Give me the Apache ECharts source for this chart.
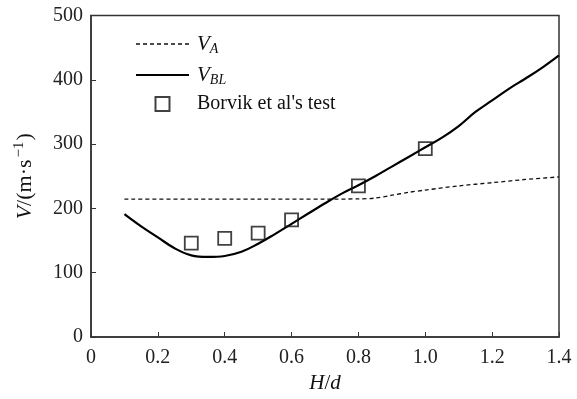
<!DOCTYPE html>
<html>
<head>
<meta charset="utf-8">
<script src="https://cdn.jsdelivr.net/npm/echarts@6/dist/echarts.min.js"></script>
<style>html,body{margin:0;padding:0;background:#fff;}#c{width:577px;height:399px;}</style>
</head>
<body>
<div id="c"></div>
<script>
// H/d sample points for the model curves
const hdCurve = [0.10,0.15,0.20,0.25,0.30,0.35,0.40,0.45,0.50,0.55,0.60,0.65,0.70,0.75,0.80,0.85,0.90,0.95,1.00,1.05,1.10,1.15,1.20,1.25,1.30,1.35,1.40];
const vBL = [191,172,155,138,127,124.5,126,132.5,145,160,176,192,208,223,236,250,265,280,295,310,328,350,368,386,402,419,438];
const hdVA = [0.10,0.30,0.50,0.70,0.80,0.85,0.90,0.95,1.00,1.10,1.20,1.30,1.40];
const vA = [214.5,214.5,214.5,214.5,214.8,216,220.5,225,228.5,235,240,245,249];
const hdTest = [0.3,0.4,0.5,0.6,0.8,1.0];
const vTest = [146,153.5,161.5,182,235,293];
const xTicks = [0,0.2,0.4,0.6,0.8,1.0,1.2,1.4];
const yTicks = [0,100,200,300,400,500];

const serif = '"Liberation Serif","DejaVu Serif",serif';
const zip = (a,b)=>a.map((v,i)=>[v,b[i]]);

// legend icons (line samples)
let dashPath = 'path://';
for (let x = 0; x < 53; x += 7) dashPath += 'M' + x + ',0h4v1.4h-4z';
const solidPath = 'path://M0,0h53v2.2h-53z';

const chart = echarts.init(document.getElementById('c'));
chart.setOption({
  animation:false,
  backgroundColor:'#fff',
  grid:{left:91,right:18,top:15.5,bottom:62,show:true,borderColor:'#333',borderWidth:1.5,backgroundColor:'transparent'},
  xAxis:{
    type:'value',min:0,max:1.4,interval:0.2,
    name:'{i|H}{n|/}{i|d}',nameLocation:'middle',nameGap:36,
    nameTextStyle:{rich:{i:{fontFamily:serif,fontStyle:'italic',fontSize:21,color:'#111'},n:{fontFamily:serif,fontSize:21,color:'#111'}}},
    axisLine:{show:true,lineStyle:{color:'#333',width:1.5}},
    axisTick:{show:true,inside:true,length:5,lineStyle:{color:'#333',width:1}},
    splitLine:{show:false},
    axisLabel:{margin:11,fontFamily:serif,fontSize:20,color:'#222',
      formatter:v=>{const t=xTicks.find(x=>Math.abs(x-v)<1e-6);return t===0?'0':t.toFixed(1);}}
  },
  yAxis:{
    type:'value',min:0,max:500,interval:100,
    name:'{i|V}{n|/(m·s}{sup|−1}{n|)}',nameLocation:'middle',nameGap:53,nameRotate:90,
    nameTextStyle:{rich:{
      i:{fontFamily:serif,fontStyle:'italic',fontSize:22,color:'#111',lineHeight:26},
      n:{fontFamily:serif,fontSize:22,color:'#111',lineHeight:26},
      sup:{fontFamily:serif,fontSize:15,color:'#111',verticalAlign:'top',lineHeight:26,padding:[0,1,0,2]}
    }},
    axisLine:{show:true,lineStyle:{color:'#333',width:1.5}},
    axisTick:{show:true,inside:true,length:5,lineStyle:{color:'#333',width:1}},
    splitLine:{show:false},
    axisLabel:{margin:8,fontFamily:serif,fontSize:20,color:'#222',formatter:v=>String(yTicks.find(y=>y===v))}
  },
  legend:{
    orient:'vertical',left:131,top:27,itemWidth:53,itemHeight:14,itemGap:7,
    textStyle:{fontFamily:serif,fontSize:20,color:'#111',
      rich:{
        i:{fontFamily:serif,fontStyle:'italic',fontSize:21,color:'#111',lineHeight:24,padding:[0,0,0,3]},
        s:{fontFamily:serif,fontStyle:'italic',fontSize:14,color:'#111',verticalAlign:'bottom',lineHeight:24,padding:[10,0,0,0]},
        t:{fontFamily:serif,fontSize:20,color:'#111',lineHeight:24,padding:[0,0,0,3]}
      }},
    formatter:function(name){
      if(name==='VA') return '{i|V}{s|A}';
      if(name==='VBL') return '{i|V}{s|BL}';
      return '{t|'+name+'}';
    },
    data:[
      {name:'VA',icon:dashPath},
      {name:'VBL',icon:solidPath},
      {name:"Borvik et al's test",icon:'path://M0,0L10,0L10,10L0,10Z'}
    ]
  },
  series:[
    {name:'VA',type:'line',data:zip(hdVA,vA),smooth:0.3,symbol:'none',
      lineStyle:{color:'#111',width:1.3,type:[4,3]},itemStyle:{color:'#111'}},
    {name:'VBL',type:'line',data:zip(hdCurve,vBL),smooth:0.4,symbol:'none',
      lineStyle:{color:'#000',width:2.2},itemStyle:{color:'#000'}},
    {name:"Borvik et al's test",type:'scatter',data:zip(hdTest,vTest),symbol:'rect',symbolSize:13,
      itemStyle:{color:'rgba(255,255,255,0)',borderColor:'#111',borderWidth:1.8},z:5}
  ]
});
</script>
</body>
</html>
